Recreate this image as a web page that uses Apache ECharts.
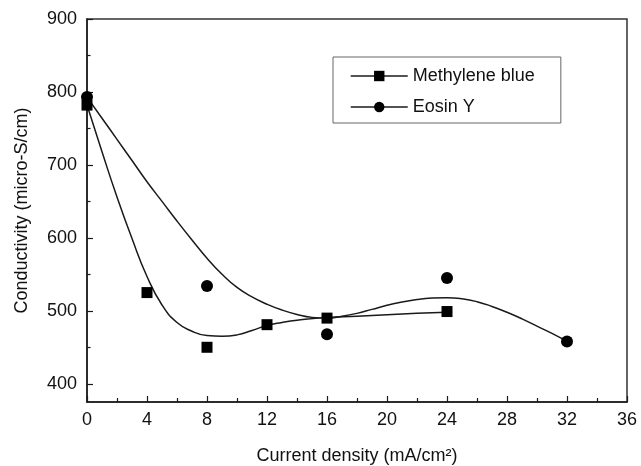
<!DOCTYPE html>
<html>
<head>
<meta charset="utf-8">
<script src="https://cdn.jsdelivr.net/npm/echarts@6/dist/echarts.min.js"></script>
<style>
    html, body { margin: 0; padding: 0; background: #fff; }
    #chart { width: 641px; height: 466px; }
</style>
</head>
<body>
<div id="chart"></div>
<script>
// measured points
var mbX = [0, 4, 8, 12, 16, 24];
var mbY = [782, 525, 450, 481, 490, 499];
var eyX = [0, 8, 16, 24, 32];
var eyY = [793, 534, 468, 545, 458];

// fitted curves
var mbCurveX = [0, 1, 2, 3, 4, 5, 6, 7, 8, 9, 10, 11, 12, 13, 14, 16, 18, 20, 22, 24];
var mbCurveY = [782, 718, 656, 599, 547, 508, 484, 472, 466, 465, 467, 473, 480, 484, 487, 491, 492.5, 494.5, 496.5, 498];
var eyCurveX = [0, 1, 2, 3, 4, 5, 6, 7, 8, 9, 10, 11, 12, 13, 14, 15, 16, 17, 18, 19, 20, 21, 22, 23, 24,
    25, 26, 27, 28, 29, 30, 31, 32];
var eyCurveY = [793, 764, 735, 706, 677, 650, 623, 597, 572, 550, 532, 519, 509, 501, 495, 491, 490, 492.5, 496.5, 502, 507.5, 512, 515.5, 517.5, 518,
    516.5, 512.5, 506, 498, 489, 479, 469, 458];

// axis ticks
var yMajor = [400, 500, 600, 700, 800, 900];
var yMinor = [450, 550, 650, 750, 850];

function pairs(xs, ys) {
    var out = [];
    for (var i = 0; i < xs.length; i++) {
        out.push([xs[i], ys[i]]);
    }
    return out;
}

var font = 'Liberation Sans, Arial, sans-serif';
var ink = '#1a1a1a';

var option = {
    animation: false,
    backgroundColor: '#fff',
    grid: {
        left: 87,
        right: 14,
        top: 19,
        bottom: 64,
        outerBoundsMode: 'none',
        show: true,
        borderColor: '#333',
        borderWidth: 1.5
    },
    legend: {
        orient: 'vertical',
        left: 333,
        top: 57,
        padding: [10, 26, 7, 17],
        itemWidth: 57,
        itemHeight: 13,
        itemGap: 13,
        borderColor: '#666',
        borderWidth: 1,
        textStyle: {
            color: '#111',
            fontSize: 18,
            fontFamily: font
        },
        lineStyle: {
            color: ink,
            width: 1.5,
            opacity: 1
        },
        data: ['Methylene blue', 'Eosin Y']
    },
    xAxis: {
        type: 'value',
        min: 0,
        max: 36,
        interval: 4,
        name: 'Current density (mA/cm²)',
        nameLocation: 'middle',
        nameGap: 45,
        nameTextStyle: {
            color: '#111',
            fontSize: 18,
            fontFamily: font
        },
        axisLine: { lineStyle: { color: ink, width: 1.5 } },
        axisTick: { inside: true, length: 6, lineStyle: { color: ink, width: 1.2 } },
        minorTick: { show: true, splitNumber: 2, length: 4, lineStyle: { color: ink, width: 1.2 } },
        axisLabel: { margin: 9, color: '#111', fontSize: 18, fontFamily: font },
        splitLine: { show: false }
    },
    yAxis: [
        {
            type: 'value',
            min: 375,
            max: 900,
            name: 'Conductivity (micro-S/cm)',
            nameLocation: 'middle',
            nameGap: 56,
            nameTextStyle: {
                color: '#111',
                fontSize: 18,
                fontFamily: font
            },
            axisLine: { show: true, lineStyle: { color: ink, width: 1.5 } },
            axisTick: { show: true, inside: true, length: 6, customValues: yMajor, lineStyle: { color: ink, width: 1.2 } },
            axisLabel: { margin: 10, customValues: yMajor, color: '#111', fontSize: 18, fontFamily: font },
            splitLine: { show: false }
        },
        {
            type: 'value',
            position: 'left',
            min: 375,
            max: 900,
            axisLine: { show: false },
            axisTick: { show: true, inside: true, length: 3.5, customValues: yMinor, lineStyle: { color: ink, width: 1.2 } },
            axisLabel: { show: false },
            splitLine: { show: false }
        }
    ],
    series: [
        {
            type: 'line',
            smooth: 0.5,
            showSymbol: false,
            silent: true,
            lineStyle: { color: ink, width: 1.5 },
            data: pairs(mbCurveX, mbCurveY),
            z: 2
        },
        {
            type: 'line',
            smooth: 0.5,
            showSymbol: false,
            silent: true,
            lineStyle: { color: ink, width: 1.5 },
            data: pairs(eyCurveX, eyCurveY),
            z: 2
        },
        {
            name: 'Methylene blue',
            type: 'line',
            symbol: 'rect',
            symbolSize: 11,
            itemStyle: { color: '#000' },
            lineStyle: { opacity: 0 },
            data: pairs(mbX, mbY),
            z: 3
        },
        {
            name: 'Eosin Y',
            type: 'line',
            symbol: 'circle',
            symbolSize: 12,
            itemStyle: { color: '#000' },
            lineStyle: { opacity: 0 },
            data: pairs(eyX, eyY),
            z: 3
        }
    ]
};

var chart = echarts.init(document.getElementById('chart'));
chart.setOption(option);
</script>
</body>
</html>
